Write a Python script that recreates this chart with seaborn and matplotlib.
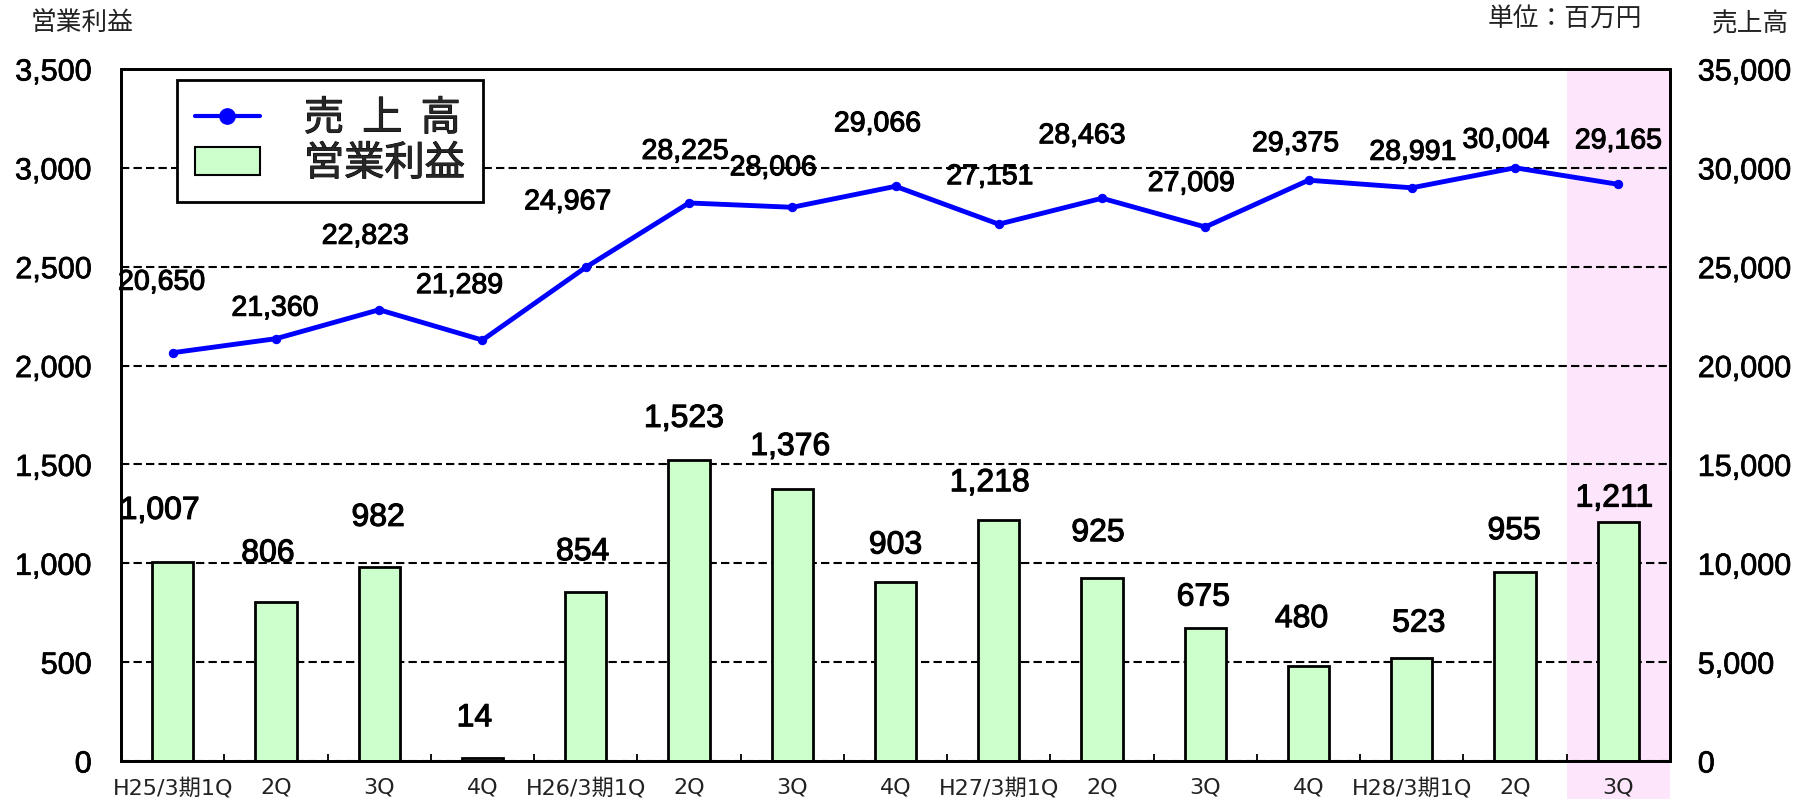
import numpy as np
import pandas as pd
import seaborn as sns
import matplotlib.pyplot as plt
import matplotlib.patheffects as pe
from matplotlib.patches import Rectangle, Patch
from matplotlib.lines import Line2D
from matplotlib.ticker import FuncFormatter, FixedLocator

# Datos del gráfico (百万円)
periodos = ['H25/3期1Q', '2Q', '3Q', '4Q',
            'H26/3期1Q', '2Q', '3Q', '4Q',
            'H27/3期1Q', '2Q', '3Q', '4Q',
            'H28/3期1Q', '2Q', '3Q']
ventas = [20650, 21360, 22823, 21289, 24967, 28225, 28006, 29066,
          27151, 28463, 27009, 29375, 28991, 30004, 29165]
beneficio = [1007, 806, 982, 14, 854, 1523, 1376, 903,
             1218, 925, 675, 480, 523, 955, 1211]

# Desplazamiento de las etiquetas (pixeles) respecto a cada punto / barra
off_ventas = [(-11, 70), (-1, 30), (-14, 73), (-23, 54), (-18, 65), (-4, 51), (-19, 39), (-18, 62),
              (-9, 47), (-20, 62), (-14, 43), (-13, 36), (1, 35), (-9, 27), (0, 43)]
off_benef = [(-13, 51), (-8, 48), (-1, 49), (-8, 40), (-3, 40), (-5, 41), (-2, 42), (0, 37),
             (-9, 37), (-4, 45), (-2, 30), (-7, 47), (7, 34), (-1, 41), (-4, 23)]

df = pd.DataFrame({'idx': np.arange(len(periodos)), 'ventas': ventas, 'beneficio': beneficio})

sns.set_theme(style='white')
plt.rcParams['font.family'] = ['DejaVu Sans', 'Noto Sans CJK JP']
cjk = ['Noto Sans CJK JP', 'DejaVu Sans']
num_font = 'Liberation Sans'
grueso = [pe.withStroke(linewidth=0.8, foreground='black')]

fig, ax = plt.subplots(figsize=(18, 7.99), dpi=100)
fig.subplots_adjust(left=121 / 1800, right=1670 / 1800, top=1 - 69 / 799, bottom=1 - 761 / 799)

# zona destacada (último trimestre)
ax.add_patch(Rectangle((13.5, -0.06), 1.0, 1.06, transform=ax.get_xaxis_transform(),
                       facecolor='#FDE6FB', edgecolor='none', zorder=0.1, clip_on=False))

sns.barplot(data=df, x='idx', y='beneficio', color='#CCFFCC', saturation=1, width=0.4,
            edgecolor='black', linewidth=2, ax=ax, zorder=2)

ax2 = ax.twinx()
sns.lineplot(data=df, x='idx', y='ventas', color='#0000FF', linewidth=3.5, marker='o',
             markersize=6, markeredgecolor='#0000FF', legend=False, ax=ax2)

# ejes
ax.set_xlim(-0.5, len(periodos) - 0.5)
ax.set_ylim(0, 3500)
ax2.set_ylim(0, 35000)
ax.set_yticks(np.arange(0, 3501, 500))
ax2.set_yticks(np.arange(0, 35001, 5000))
fmt = FuncFormatter(lambda v, p: f'{v:,.0f}')
ax.yaxis.set_major_formatter(fmt)
ax2.yaxis.set_major_formatter(fmt)
ax.set_xticks(np.arange(len(periodos)))
ax.set_xticklabels(periodos, fontsize=16, color='#222222')
ax.xaxis.set_minor_locator(FixedLocator(np.arange(0.5, len(periodos) - 1, 1.0)))
ax.tick_params(axis='x', which='major', length=0, pad=12)
ax.tick_params(axis='x', which='minor', length=5, width=1.3, direction='in', color='black', bottom=True)
ax.tick_params(axis='y', length=0, pad=21, labelsize=22, labelcolor='black')
ax2.tick_params(axis='y', length=0, pad=20, labelsize=22, labelcolor='black')
for t in ax.get_yticklabels() + ax2.get_yticklabels():
    t.set_family(num_font)
    t.set_path_effects([pe.withStroke(linewidth=0.5, foreground='black')])
ax.set_xlabel('')
ax.set_ylabel('')
ax2.set_ylabel('')

ax.set_axisbelow(True)
ax.yaxis.grid(True, linestyle=(0, (4, 2)), color='black', linewidth=1.5)
ax.xaxis.grid(False)
for a in (ax, ax2):
    for s in a.spines.values():
        s.set_color('black')
        s.set_linewidth(2)

# etiquetas de valores
for i, v in enumerate(ventas):
    ax2.annotate(f'{v:,}', (i, v), xytext=off_ventas[i], textcoords='offset pixels',
                 ha='center', va='center', fontsize=20.5, family=num_font, color='black',
                 path_effects=grueso)
for i, v in enumerate(beneficio):
    ax.annotate(f'{v:,}', (i, v), xytext=off_benef[i], textcoords='offset pixels',
                ha='center', va='center', fontsize=23, family=num_font, color='black', zorder=5,
                path_effects=grueso)

# leyenda
handles = [Line2D([0], [0], color='#0000FF', linewidth=3, marker='o', markersize=11),
           Patch(facecolor='#CCFFCC', edgecolor='black', linewidth=1.5)]
leg = fig.legend(handles, ['売  上  高', '営業利益'], loc='upper left',
                 bbox_to_anchor=(177 / 1800, 1 - 80 / 799), borderaxespad=0,
                 prop={'family': cjk, 'size': 29}, frameon=True, fancybox=False,
                 framealpha=1, edgecolor='black', handlelength=1.6, handletextpad=1.1,
                 borderpad=0.45, labelspacing=0.1)
leg.get_frame().set_linewidth(2)
for t in leg.get_texts():
    t.set_path_effects([pe.withStroke(linewidth=0.7, foreground='black')])

# textos superiores
fig.text(31 / 1800, 1 - 22.5 / 799, '営業利益', ha='left', va='center', fontsize=18.5, family=cjk, color='#222222')
fig.text(1488 / 1800, 1 - 20 / 799, '単位：百万円', ha='left', va='center', fontsize=18.5, family=cjk, color='#222222')
fig.text(1712 / 1800, 1 - 24 / 799, '売上高', ha='left', va='center', fontsize=18.5, family=cjk, color='#222222')

plt.savefig('out.png', dpi=100)
